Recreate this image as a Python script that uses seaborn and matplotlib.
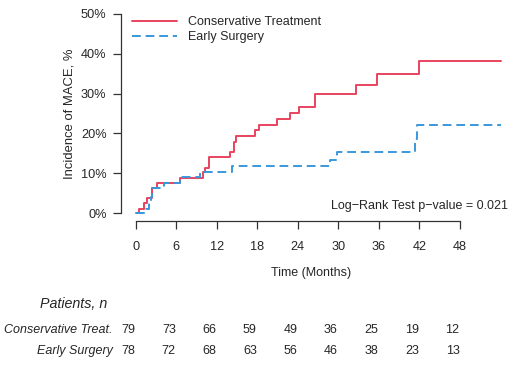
#!/usr/bin/env python3
# cumulative incidence of MACE, conservative vs early surgery, with risk table

import numpy as np
import pandas as pd

import matplotlib as mpl
mpl.use('Agg')
import matplotlib.pyplot as plt
import matplotlib.transforms as mtransforms
import seaborn as sns

# step curves (time in months, cumulative incidence in %)
cons_t = [0, 0.5, 1.3, 1.7, 2.4, 3.2, 6.6, 9.9, 10.3, 10.8, 13.9, 14.6, 14.8,
          17.7, 18.2, 20.9, 22.9, 24.2, 26.5, 32.6, 35.7, 41.9, 54]
cons_y = [0, 1.1, 2.6, 3.9, 6.3, 7.6, 8.8, 10.3, 11.4, 14.1, 15.4, 17.9, 19.3,
          20.8, 22.1, 23.6, 25.0, 26.6, 30.0, 32.2, 34.9, 38.1, 38.1]
surg_t = [0, 1.5, 2.0, 2.3, 2.45, 4.2, 6.6, 9.5, 14.2, 28.8, 29.8, 41.3, 41.7, 54]
surg_y = [0, 1.1, 2.7, 4.0, 6.3, 7.6, 9.1, 10.3, 11.7, 13.3, 15.3, 18.7, 22.1, 22.1]

groups = ['Conservative Treatment', 'Early Surgery']
colors = ['#E8435E', '#3A98DC']

risk_times = [0, 6, 12, 18, 24, 30, 36, 42, 48]
risk_labels = ['Conservative Treat.', 'Early Surgery']
risk_cons = [79, 73, 66, 59, 49, 36, 25, 19, 12]
risk_surg = [78, 72, 68, 63, 56, 46, 38, 23, 13]

df = pd.concat([
    pd.DataFrame({'time': cons_t, 'inc': cons_y, 'group': groups[0]}),
    pd.DataFrame({'time': surg_t, 'inc': surg_y, 'group': groups[1]}),
], ignore_index=True)

sns.set_style('ticks')
plt.rcParams['font.family'] = ['Liberation Sans', 'DejaVu Sans']
fs = 9

W, H = 517, 368
fig = plt.figure(figsize=(W / 100, H / 100), dpi=100)
# axes box in pixel units (left, top, right, bottom)
l, t, r, b = 121.1, 6.0, 501.6, 221.0
ax = fig.add_axes([l / W, 1 - b / H, (r - l) / W, (b - t) / H])

sns.lineplot(data=df, x='time', y='inc', hue='group', style='group',
             palette=dict(zip(groups, colors)),
             dashes={groups[0]: '', groups[1]: (4.5, 2.5)},
             estimator=None, sort=False, drawstyle='steps-post',
             linewidth=1.4, ax=ax)

ax.set_xlim(-2.16, 54.16)
ax.set_ylim(-2.0, 52.0)
ax.set_xticks(risk_times)
ax.set_yticks([0, 10, 20, 30, 40, 50])
ax.set_yticklabels([f'{v}%' for v in range(0, 60, 10)])
ax.spines['top'].set_visible(False)
ax.spines['right'].set_visible(False)
ax.spines['left'].set_bounds(0, 50)
ax.spines['bottom'].set_bounds(0, 48)
for s in ['left', 'bottom']:
    ax.spines[s].set_color('#333333')
    ax.spines[s].set_linewidth(0.9)
ax.tick_params(axis='both', length=5.5, width=0.9, color='#333333', labelsize=fs + 0.2)
ax.tick_params(axis='x', pad=9)
ax.tick_params(axis='y', pad=5)

ax.set_xlabel('Time (Months)', fontsize=fs, labelpad=10)
ax.set_ylabel('Incidence of MACE, %', fontsize=fs + 0.4)
ax.yaxis.set_label_coords(-0.121, 0.5)

handles, labels = ax.get_legend_handles_labels()
ax.legend(handles, labels, loc='upper left', frameon=False, fontsize=fs,
          bbox_to_anchor=(132 / W, 1 - 16 / H), bbox_transform=fig.transFigure,
          borderpad=0, borderaxespad=0, handlelength=3.6, handletextpad=0.85,
          labelspacing=0.25)

ax.text(55.1, 1.8, 'Log\u2212Rank Test p\u2212value = 0.021', ha='right', va='center',
        fontsize=fs, clip_on=False)

# risk table under the plot
trans = mtransforms.blended_transform_factory(ax.transData, fig.transFigure)
fig.text(40 / W, 1 - 304 / H, 'Patients, n', style='italic', fontsize=10.3,
         ha='left', va='center')
rows_y = [1 - 330 / H, 1 - 351 / H]
for lab, yy, counts in zip(risk_labels, rows_y, [risk_cons, risk_surg]):
    fig.text(113 / W, yy, lab, style='italic', fontsize=fs, ha='right', va='center')
    for tm, n in zip(risk_times, counts):
        ax.text(tm - 1.1, yy, str(n), transform=trans, ha='center', va='center',
                fontsize=fs, clip_on=False)

fig.savefig('out.png', dpi=100)
